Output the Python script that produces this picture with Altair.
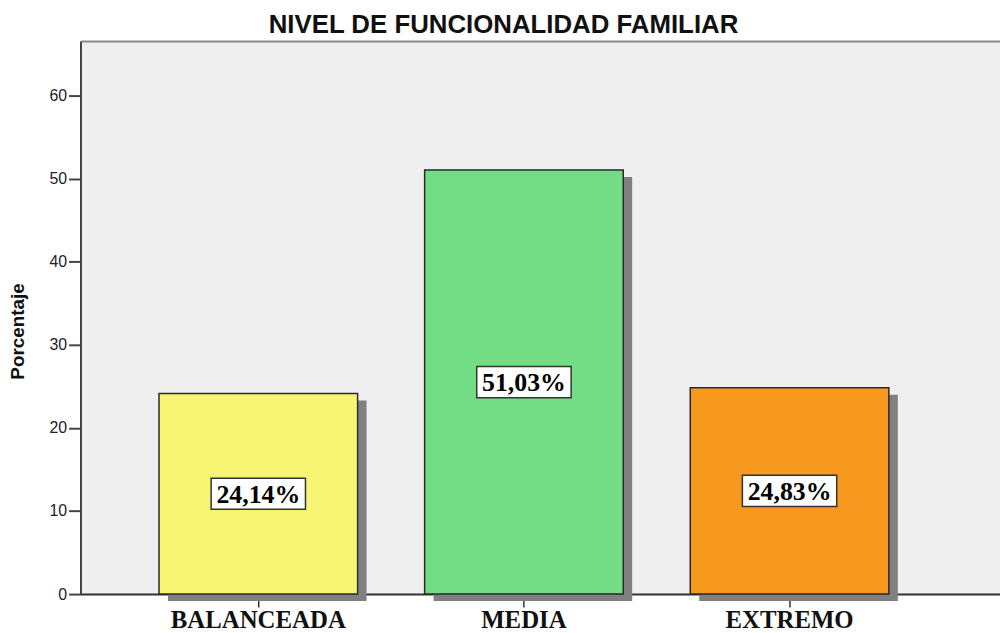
import altair as alt
import pandas as pd

categories = ["BALANCEADA", "MEDIA", "EXTREMO"]
percentages = [24.14, 51.03, 24.83]
label_texts = ["24,14%", "51,03%", "24,83%"]
bar_colors = ["#F8F574", "#72DD85", "#F7991F"]
y_ticks = [0, 10, 20, 30, 40, 50, 60]

df = pd.DataFrame({"cat": categories, "pct": percentages, "label": label_texts})

W, H = 926, 557
x_scale = alt.Scale(domain=categories, paddingInner=0.2523, paddingOuter=0.357, align=0.414)
y_scale = alt.Scale(domain=[0, 66.57], nice=False, zero=True)

y_axis = alt.Axis(orient="left", values=y_ticks, title="Porcentaje", grid=False,
                  titleFont="Liberation Sans", titleFontSize=19,
                  titleFontWeight="bold", titleColor="#111111",
                  titleX=-57, titleY=292, titleBaseline="alphabetic",
                  labelFont="Liberation Sans", labelFontSize=16,
                  labelColor="#222222", labelPadding=2,
                  tickSize=12, tickWidth=2, tickColor="#444444",
                  domainColor="#444444", domainWidth=2)

base = alt.Chart(df)

shadow = base.mark_bar(color="#808080", xOffset=9, yOffset=7, y2Offset=7).encode(
    x=alt.X("cat:N", scale=x_scale, sort=categories,
            axis=alt.Axis(orient="top", labels=False, ticks=False, title=None,
                          domainColor="#8A8A8A", domainWidth=2)),
    y=alt.Y("pct:Q", scale=y_scale, axis=y_axis),
)

bars = base.mark_bar(stroke="#2A2A2A", strokeWidth=1.5).encode(
    x=alt.X("cat:N", scale=x_scale, sort=categories,
            axis=alt.Axis(orient="bottom", title=None, labelAngle=0,
                          labelFont="Liberation Serif", labelFontWeight="bold",
                          labelFontSize=25, labelColor="#111111", labelPadding=1,
                          tickSize=13, tickWidth=1.5, tickColor="#333333",
                          domainColor="#333333", domainWidth=2)),
    y=alt.Y("pct:Q", scale=y_scale, axis=y_axis),
    color=alt.Color("cat:N", scale=alt.Scale(domain=categories, range=bar_colors), legend=None),
)

boxes = base.transform_calculate(mid="datum.pct / 2").mark_point(
    shape="M-1,-0.33L1,-0.33L1,0.33L-1,0.33Z", size=95 * 95, filled=True,
    fill="white", stroke="#333333", strokeWidth=1.5, opacity=1,
).encode(
    x=alt.X("cat:N", scale=x_scale, sort=categories, axis=None),
    y=alt.Y("mid:Q", scale=y_scale, axis=y_axis),
)

texts = base.transform_calculate(mid="datum.pct / 2").mark_text(
    font="Liberation Serif", fontWeight="bold", fontSize=26, color="#000000",
    baseline="middle", align="center", dy=1,
).encode(
    x=alt.X("cat:N", scale=x_scale, sort=categories, axis=None),
    y=alt.Y("mid:Q", scale=y_scale, axis=y_axis),
    text="label:N",
)

chart = alt.layer(shadow, bars, boxes, texts).properties(
    width=W, height=H,
    title=alt.TitleParams("NIVEL DE FUNCIONALIDAD FAMILIAR", font="Liberation Sans",
                          fontSize=26, fontWeight="bold", color="#111111",
                          anchor="middle", frame="group", dx=-37, offset=-18,
                          baseline="alphabetic"),
    autosize=alt.AutoSizeParams(type="none"),
    padding={"left": 73, "top": 31, "right": 0, "bottom": 37},
).configure_view(fill="#EFEFEF", stroke=None)

chart.save("out.html", embed_options={"renderer": "svg", "actions": False})
